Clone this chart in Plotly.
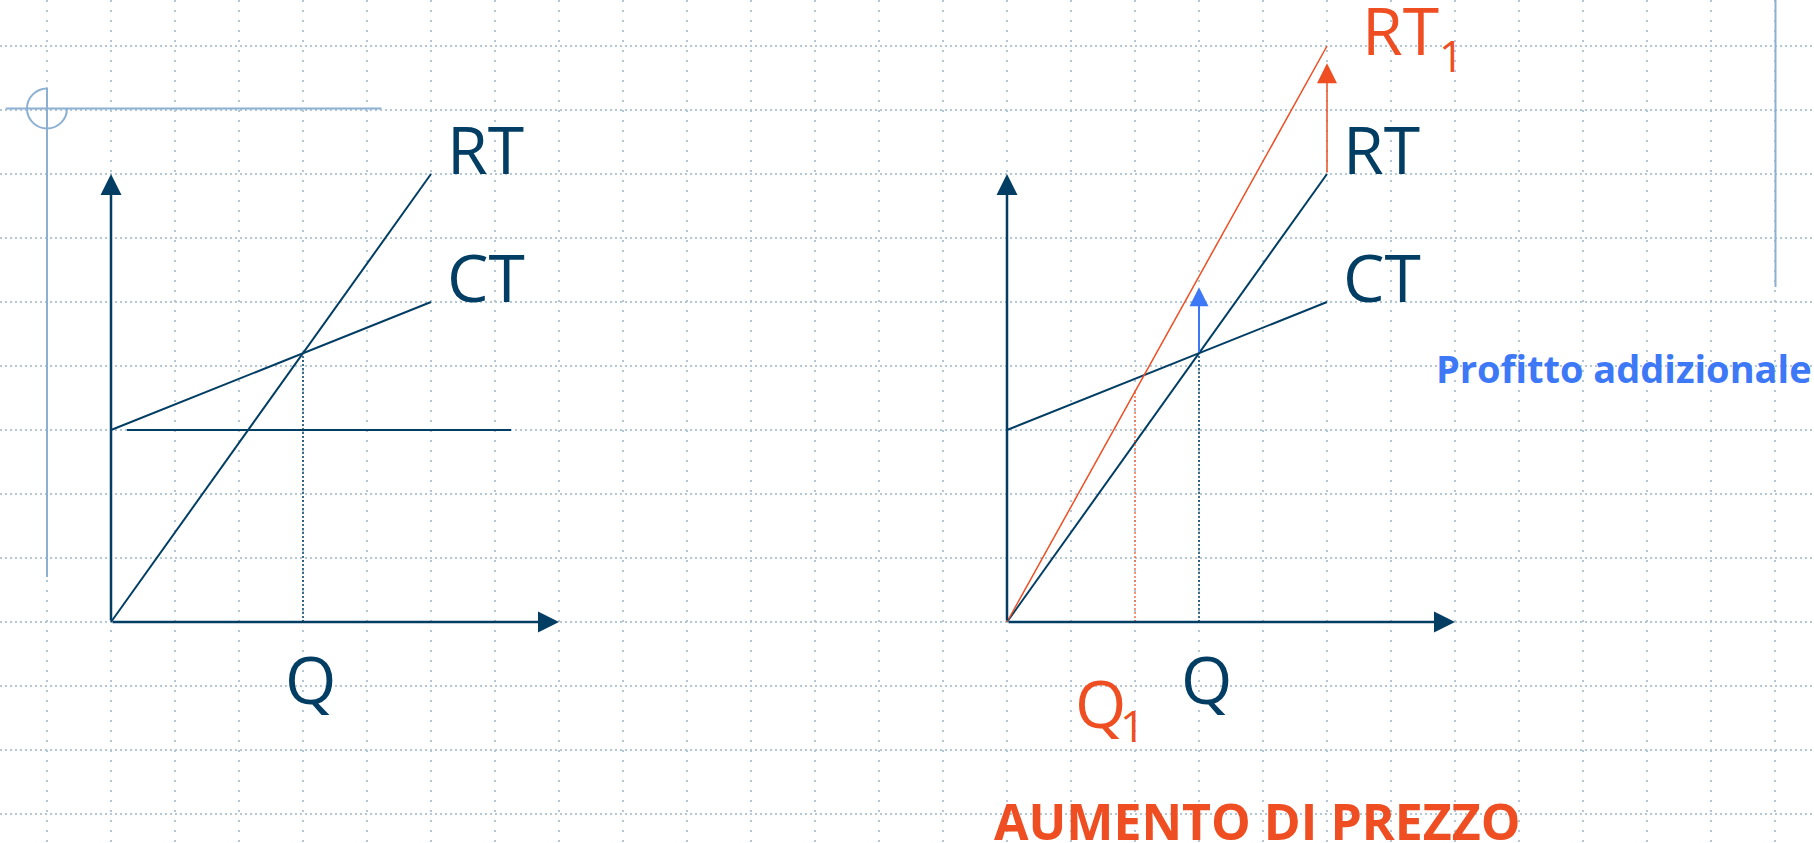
import plotly.graph_objects as go

# ---------------- data (diagram units: 1 unit = one grid square) ----------------
Q_LINE = [0, 5]            # quantity range of the RT / CT / RT1 lines
RT_VALUES = [0, 7]         # ricavo totale
CT_VALUES = [3, 5]         # costo totale
RT1_VALUES = [0, 9]        # ricavo totale dopo l'aumento di prezzo
CF_Q = [0.25, 6.25]        # fixed-cost line (left panel)
CF_VALUES = [3, 3]
Q_BREAK = 3                # break-even quantity Q
Q_BREAK_VALUE = 4.2
Q1_BREAK = 2               # new break-even quantity Q1
Q1_BREAK_VALUE = 3.6
PROFIT_ARROW_TOP = 5.23    # tip of the "profitto addizionale" arrow
PRICE_ARROW_TOP = 8.73     # tip of the price-increase arrow
AXIS_Q_MAX = 7
AXIS_V_MAX = 7

LABEL_RT = "RT"
LABEL_CT = "CT"
LABEL_RT1 = ("RT", "1")    # main text, subscript
LABEL_Q = "Q"
LABEL_Q1 = ("Q", "1")
LABEL_PROFIT = "<b>Profitto addizionale</b>"
LABEL_TITLE = "<b>AUMENTO DI PREZZO</b>"

# ---------------- styling ----------------
W, H = 1814, 843
UNIT = 64
LEFT_X0 = 111
RIGHT_X0 = 1007
Y0 = 622
NAVY = "#023E64"
ORANGE = "#EE4E22"
BLUE = "#3D78F7"
DECO = "#8CB0D2"
GRID = "#B4C7D5"
FONT = "Open Sans"
BIG = 66

fig = go.Figure()


def line(xs, ys, xaxis, color, width, dash="solid"):
    fig.add_trace(go.Scatter(x=xs, y=ys, xaxis=xaxis, yaxis="y", mode="lines",
                             line=dict(color=color, width=width, dash=dash),
                             hoverinfo="skip", showlegend=False, cliponaxis=False))


def arrow(xref, x0, y0, x1, y1, color, width, headsize):
    fig.add_annotation(x=x1, y=y1, ax=x0, ay=y0, xref=xref, yref="y",
                       axref=xref, ayref="y", text="", showarrow=True,
                       arrowhead=2, arrowwidth=width,
                       arrowsize=headsize / (5.0 * width), arrowcolor=color,
                       standoff=0, startstandoff=0)


def label(text, xref, x, y, color, size, xanchor="left", xshift=0):
    # y is the text baseline
    fig.add_annotation(x=x, y=y, xref=xref, yref="y", text=text, showarrow=False,
                       xanchor=xanchor, yanchor="middle", xshift=xshift,
                       yshift=0.388 * size,
                       font=dict(family=FONT, size=size, color=color))


for xa in ("x", "x2"):
    # axes
    arrow(xa, 0, 0, 0, AXIS_V_MAX, NAVY, 2.5, 21)
    arrow(xa, 0, 0, AXIS_Q_MAX, 0, NAVY, 2.5, 21)
    # curves
    line(Q_LINE, RT_VALUES, xa, NAVY, 2)
    line(Q_LINE, CT_VALUES, xa, NAVY, 2)
    line([Q_BREAK, Q_BREAK], [0, Q_BREAK_VALUE], xa, NAVY, 1.5, "2px,2px")
    label(LABEL_RT, xa, Q_LINE[1], RT_VALUES[1], NAVY, BIG, xshift=14)
    label(LABEL_CT, xa, Q_LINE[1], CT_VALUES[1], NAVY, BIG, xshift=14)
    label(LABEL_Q, xa, Q_BREAK, -1.27, NAVY, BIG, xanchor="center", xshift=7)

# left panel: fixed cost
line(CF_Q, CF_VALUES, "x", NAVY, 2)

# right panel: price increase
line(Q_LINE, RT1_VALUES, "x2", ORANGE, 1.5)
line([Q1_BREAK, Q1_BREAK], [0, Q1_BREAK_VALUE], "x2", ORANGE, 1.2, "2px,2px")
arrow("x2", Q_LINE[1], RT_VALUES[1], Q_LINE[1], PRICE_ARROW_TOP, ORANGE, 1.5, 20)
arrow("x2", Q_BREAK, Q_BREAK_VALUE, Q_BREAK, PROFIT_ARROW_TOP, BLUE, 2, 19)

label(LABEL_RT1[0], "x2", Q_LINE[1], RT1_VALUES[1] - 9 / UNIT, ORANGE, BIG, xshift=33)
label(LABEL_RT1[1], "x2", Q_LINE[1], RT1_VALUES[1] - 25.7 / UNIT, ORANGE, 43,
      xanchor="center", xshift=124)
label(LABEL_Q1[0], "x2", Q1_BREAK, -1.656, ORANGE, BIG, xanchor="left", xshift=-62)
label(LABEL_Q1[1], "x2", Q1_BREAK, -1.87, ORANGE, 44, xanchor="center", xshift=-3)

# free texts
fig.add_annotation(x=1433.6 / W, y=(Y0 - 382.7) / UNIT, xref="paper", yref="y",
                   text=LABEL_PROFIT, showarrow=False, xanchor="left", yanchor="middle",
                   yshift=0.388 * 38, font=dict(family=FONT, size=38, color=BLUE))
fig.add_annotation(x=1257.5 / W, y=(Y0 - 840) / UNIT, xref="paper", yref="y",
                   text=LABEL_TITLE, showarrow=False, xanchor="center", yanchor="middle",
                   yshift=0.388 * 50, font=dict(family=FONT, size=50, color=ORANGE))


# slide decorations (paper coordinates)
def px(xp):
    return xp / W


def py(yp):
    return 1 - yp / H


shapes = [
    dict(type="line", xref="paper", yref="paper", x0=px(5.7), x1=px(381.5),
         y0=py(108.5), y1=py(108.5), line=dict(color=DECO, width=2)),
    dict(type="line", xref="paper", yref="paper", x0=px(47), x1=px(47),
         y0=py(87.5), y1=py(577), line=dict(color=DECO, width=2)),
    dict(type="line", xref="paper", yref="paper", x0=px(1775.5), x1=px(1775.5),
         y0=py(0), y1=py(287), line=dict(color=DECO, width=2)),
]
cx, cy, r, k = 47.0, 108.5, 20.0, 0.5523


def pts(a, b):
    return f"{px(a):.6f},{py(b):.6f}"


path = (f"M{pts(cx, cy - r)} "
        f"C{pts(cx - k * r, cy - r)} {pts(cx - r, cy - k * r)} {pts(cx - r, cy)} "
        f"C{pts(cx - r, cy + k * r)} {pts(cx - k * r, cy + r)} {pts(cx, cy + r)} "
        f"C{pts(cx + k * r, cy + r)} {pts(cx + r, cy + k * r)} {pts(cx + r, cy)}")
shapes.append(dict(type="path", xref="paper", yref="paper", path=path,
                   line=dict(color=DECO, width=2)))

fig.update_layout(
    width=W, height=H, margin=dict(l=0, r=0, t=0, b=0),
    paper_bgcolor="white", plot_bgcolor="white",
    shapes=shapes,
    xaxis=dict(range=[-LEFT_X0 / UNIT, (W - LEFT_X0) / UNIT], domain=[0, 1],
               showgrid=True, tick0=0, dtick=1, gridcolor=GRID, gridwidth=2,
               griddash="2px,8px", zeroline=False, showticklabels=False,
               showline=False, ticks="", fixedrange=True),
    xaxis2=dict(range=[-RIGHT_X0 / UNIT, (W - RIGHT_X0) / UNIT], domain=[0, 1],
                overlaying="x", anchor="y", showgrid=False, zeroline=False,
                showticklabels=False, showline=False, ticks="", fixedrange=True),
    yaxis=dict(range=[-(H - Y0) / UNIT, Y0 / UNIT], domain=[0, 1],
               showgrid=True, tick0=0, dtick=1, gridcolor=GRID, gridwidth=2,
               griddash="2px,3px", zeroline=False, showticklabels=False,
               showline=False, ticks="", fixedrange=True),
    font=dict(family=FONT),
)

fig.write_html("out.html", config={"displayModeBar": False},
               post_script="document.body.style.margin='0px';document.body.style.overflow='hidden';")
